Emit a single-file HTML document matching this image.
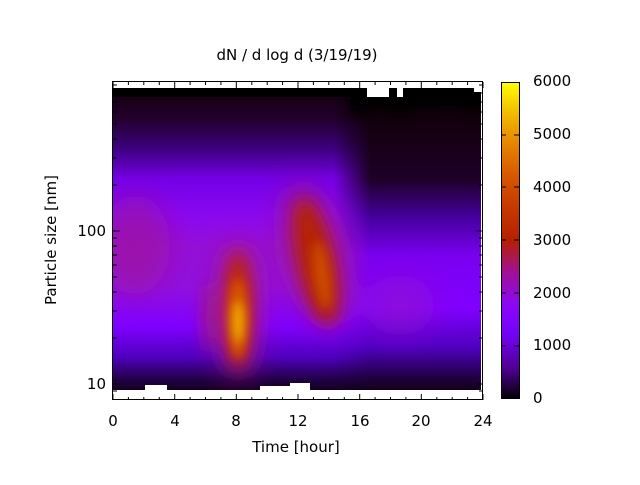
<!DOCTYPE html>
<html><head><meta charset="utf-8"><style>
html,body{margin:0;padding:0;background:#fff;}
svg text{font-family:"DejaVu Sans","Liberation Sans",sans-serif;font-size:15px;fill:#000;}
</style></head><body>
<svg width="640" height="480" viewBox="0 0 640 480" xmlns="http://www.w3.org/2000/svg">
<defs>
<linearGradient id="gR" x1="0" y1="88" x2="0" y2="393" gradientUnits="userSpaceOnUse">
<stop offset="0" stop-color="#0a0006"/>
<stop offset="0.1" stop-color="#12000c"/>
<stop offset="0.3" stop-color="#1e0028"/>
<stop offset="0.42" stop-color="#44009a"/>
<stop offset="0.55" stop-color="#7a00f0"/>
<stop offset="0.72" stop-color="#8000ff"/>
<stop offset="0.85" stop-color="#5000c0"/>
<stop offset="0.95" stop-color="#200040"/>
<stop offset="1" stop-color="#100014"/>
</linearGradient>
<linearGradient id="gL" x1="0" y1="88" x2="0" y2="393" gradientUnits="userSpaceOnUse">
<stop offset="0" stop-color="#12000a"/>
<stop offset="0.1" stop-color="#22002c"/>
<stop offset="0.2" stop-color="#3e0080"/>
<stop offset="0.3" stop-color="#7400e8"/>
<stop offset="0.42" stop-color="#8a08f0"/>
<stop offset="0.52" stop-color="#9410d8"/>
<stop offset="0.65" stop-color="#9010e0"/>
<stop offset="0.78" stop-color="#8000ff"/>
<stop offset="0.88" stop-color="#5000c0"/>
<stop offset="0.96" stop-color="#1e0040"/>
<stop offset="1" stop-color="#120018"/>
</linearGradient>
<linearGradient id="fadeX" x1="113" y1="0" x2="481" y2="0" gradientUnits="userSpaceOnUse">
<stop offset="0.6" stop-color="#fff"/>
<stop offset="0.7" stop-color="#000"/>
</linearGradient>
<mask id="mL"><rect x="113" y="88" width="368" height="305" fill="url(#fadeX)"/></mask>
<filter id="bl0" x="-50%" y="-50%" width="200%" height="200%"><feGaussianBlur stdDeviation="14"/></filter>
<filter id="bl" x="-50%" y="-50%" width="200%" height="200%"><feGaussianBlur stdDeviation="8"/></filter>
<filter id="bl2" x="-50%" y="-50%" width="200%" height="200%"><feGaussianBlur stdDeviation="5"/></filter>
<linearGradient id="cb" x1="0" y1="399" x2="0" y2="82" gradientUnits="userSpaceOnUse">
<stop offset="0" stop-color="#000000"/>
<stop offset="0.1" stop-color="#510096"/>
<stop offset="0.2" stop-color="#7202f3"/>
<stop offset="0.25" stop-color="#8004ff"/>
<stop offset="0.3" stop-color="#8c07f3"/>
<stop offset="0.4" stop-color="#a11096"/>
<stop offset="0.5" stop-color="#b42000"/>
<stop offset="0.6" stop-color="#c63700"/>
<stop offset="0.7" stop-color="#d55700"/>
<stop offset="0.8" stop-color="#e48300"/>
<stop offset="0.9" stop-color="#f2ba00"/>
<stop offset="1" stop-color="#ffff00"/>
</linearGradient>
<clipPath id="cp"><rect x="113" y="88" width="368" height="305"/></clipPath>
</defs>

<text x="297" y="60" text-anchor="middle">dN / d log d (3/19/19)</text>

<g clip-path="url(#cp)">
<rect x="113" y="88" width="368" height="305" fill="url(#gR)"/>
<rect x="113" y="88" width="368" height="305" fill="url(#gL)" mask="url(#mL)"/>
<g filter="url(#bl0)">
<ellipse cx="135" cy="245" rx="35" ry="50" fill="#a01890" opacity="0.6"/>
<ellipse cx="400" cy="305" rx="35" ry="30" fill="#9a10c0" opacity="0.5"/>
<ellipse cx="238" cy="310" rx="22" ry="70" fill="#a81880" opacity="0.8"/>
<g transform="rotate(-14 315 255)"><ellipse cx="315" cy="255" rx="28" ry="72" fill="#a81870" opacity="0.8"/></g>
</g>
<g filter="url(#bl)">
<ellipse cx="210" cy="318" rx="6" ry="35" fill="#a82060" opacity="0.85"/>
<ellipse cx="238" cy="310" rx="13" ry="58" fill="#c02800"/>
<g transform="rotate(-12 316 262)"><ellipse cx="316" cy="262" rx="17" ry="64" fill="#b52400"/></g>
</g>
<g filter="url(#bl2)">
<ellipse cx="238" cy="318" rx="9" ry="40" fill="#d85800"/>
<ellipse cx="238" cy="322" rx="6" ry="20" fill="#f0a800"/>
<g transform="rotate(-8 322 275)"><ellipse cx="322" cy="275" rx="8" ry="34" fill="#cc4c00"/></g>
</g>
<rect x="113" y="88" width="368" height="9" fill="#000"/>
<path d="M350 88 H481 V112 H460 V106 H440 V110 H410 V116 H390 V110 H370 V116 H350 Z" fill="#000" filter="url(#bl2)" opacity="0.8"/>
<path d="M350 88 H481 V105 H350 Z" fill="#000"/>
</g>
<rect x="367" y="88" width="22" height="9" fill="#fff"/>
<rect x="397" y="88" width="6" height="9" fill="#fff"/>
<rect x="474" y="88" width="7" height="4" fill="#fff"/>
<rect x="145" y="385" width="22" height="8" fill="#fff"/>
<rect x="260" y="386" width="30" height="7" fill="#fff"/>
<rect x="290" y="383" width="20" height="10" fill="#fff"/>
<rect x="113" y="390" width="368" height="10" fill="#fff"/>

<rect x="112.5" y="81.5" width="370" height="318" fill="none" stroke="#000" stroke-width="1"/>
<g stroke="#000" stroke-width="1">
<path d="M113 400v-6M113 82v6M174.7 400v-6M174.7 82v6M236.3 400v-6M236.3 82v6M298 400v-6M298 82v6M359.7 400v-6M359.7 82v6M421.3 400v-6M421.3 82v6M483 400v-6M483 82v6"/>
<path d="M128.4 400v-3M143.8 400v-3M159.3 400v-3M190.1 400v-3M205.5 400v-3M220.9 400v-3M251.8 400v-3M267.2 400v-3M282.6 400v-3M313.4 400v-3M328.8 400v-3M344.3 400v-3M375.1 400v-3M390.5 400v-3M405.9 400v-3M436.8 400v-3M452.2 400v-3M467.6 400v-3
M128.4 82v3M143.8 82v3M159.3 82v3M190.1 82v3M205.5 82v3M220.9 82v3M251.8 82v3M267.2 82v3M282.6 82v3M313.4 82v3M328.8 82v3M344.3 82v3M375.1 82v3M390.5 82v3M405.9 82v3M436.8 82v3M452.2 82v3M467.6 82v3"/>
<path d="M113 384h7M113 231h7M483 384h-7M483 231h-7"/>
<path d="M113 391h4M113 338h4M113 311h4M113 292h4M113 277h4M113 265h4M113 255h4M113 246h4M113 238h4M113 185h4M113 158h4M113 139h4M113 124h4M113 112h4M113 102h4M113 93h4M113 85h4
M483 391h-4M483 338h-4M483 311h-4M483 292h-4M483 277h-4M483 265h-4M483 255h-4M483 246h-4M483 238h-4M483 185h-4M483 158h-4M483 139h-4M483 124h-4M483 112h-4M483 102h-4M483 93h-4M483 85h-4"/>
</g>
<text x="106" y="389" text-anchor="end">10</text>
<text x="106" y="236" text-anchor="end">100</text>
<g text-anchor="middle">
<text x="113" y="426">0</text><text x="175" y="426">4</text><text x="236" y="426">8</text>
<text x="298" y="426">12</text><text x="360" y="426">16</text><text x="421" y="426">20</text><text x="483" y="426">24</text>
</g>
<text x="296" y="452" text-anchor="middle">Time [hour]</text>
<text transform="translate(56 240) rotate(-90)" text-anchor="middle">Particle size [nm]</text>

<rect x="501.5" y="82.5" width="18" height="316" fill="url(#cb)" stroke="#000" stroke-width="1"/>
<g stroke="#000"><path d="M501 346h5M519 346h-5M501 293h5M519 293h-5M501 240h5M519 240h-5M501 187h5M519 187h-5M501 135h5M519 135h-5"/></g>
<g>
<text x="533" y="403">0</text><text x="533" y="350">1000</text><text x="533" y="298">2000</text>
<text x="533" y="245">3000</text><text x="533" y="192">4000</text><text x="533" y="139">5000</text><text x="533" y="86">6000</text>
</g>
</svg>
</body></html>
